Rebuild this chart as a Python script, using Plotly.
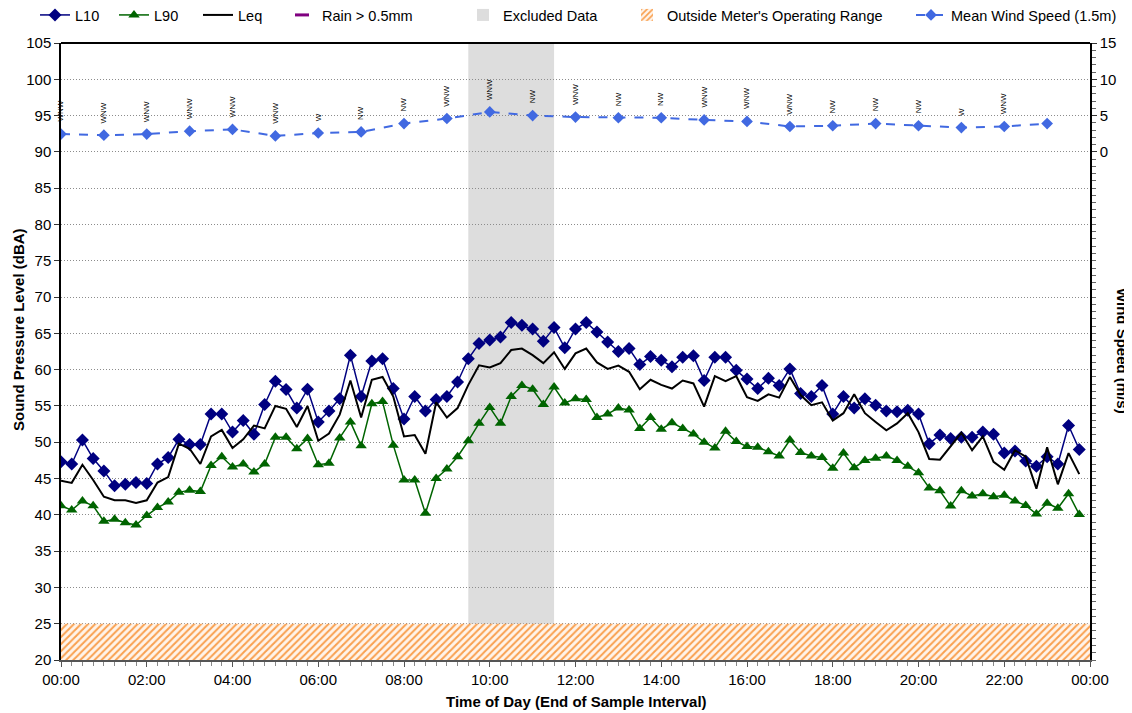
import pandas as pd
import plotly.graph_objects as go

DAY = "2000-01-01"
NEXT_DAY = "2000-01-02"

# 15-minute sample times (end of interval)
times = pd.date_range(f"{DAY} 00:00", periods=96, freq="15min")

l10 = [47.3, 47.0, 50.3, 47.75, 46.05, 44.0, 44.2, 44.45, 44.3, 47.0, 47.9, 50.4,
       49.7, 49.7, 53.9, 53.9, 51.4, 53.0, 51.1, 55.2, 58.4, 57.25, 54.7, 57.3,
       52.8, 54.3, 56.0, 62.0, 56.3, 61.2, 61.5, 57.4, 53.2, 56.3, 54.3, 55.9,
       56.3, 58.3, 61.5, 63.6, 64.1, 64.5, 66.5, 66.1, 65.6, 63.9, 65.8, 63.0,
       65.6, 66.5, 65.2, 63.8, 62.5, 62.9, 60.7, 61.8, 61.3, 60.4, 61.7, 61.9,
       58.5, 61.7, 61.7, 59.9, 58.7, 57.4, 58.8, 57.8, 60.1, 56.7, 56.3, 57.8,
       53.9, 56.3, 54.7, 56.0, 55.1, 54.3, 54.2, 54.4, 53.9, 49.8, 51.0, 50.5,
       50.7, 50.7, 51.4, 51.1, 48.5, 48.8, 47.4, 46.7, 48.0, 47.0, 52.3, 49.0]

leq = [44.7, 44.4, 46.9, 44.8, 42.5, 42.0, 42.0, 41.65, 42.0, 44.45, 45.2, 49.8,
       49.1, 47.0, 50.8, 51.7, 49.2, 50.4, 52.3, 51.9, 55.0, 54.6, 52.1, 55.0,
       50.2, 51.2, 53.8, 58.5, 53.4, 58.6, 59.0, 56.3, 50.8, 51.0, 48.4, 55.5,
       53.4, 54.7, 57.9, 60.6, 60.3, 60.9, 62.7, 62.9, 62.0, 60.9, 62.4, 60.1,
       62.25, 62.9, 61.0, 60.1, 60.55, 59.7, 57.3, 58.6, 57.9, 57.4, 58.5, 58.1,
       54.9, 59.1, 58.4, 59.1, 56.2, 55.7, 56.6, 56.15, 59.0, 56.5, 55.1, 55.5,
       53.0, 54.0, 56.6, 54.0, 52.8, 51.65, 52.6, 54.0, 51.4, 47.7, 47.6, 49.5,
       51.3, 48.9, 50.8, 47.3, 46.2, 48.9, 48.0, 43.6, 49.3, 44.2, 48.5, 45.6]

l90 = [41.25, 40.65, 41.9, 41.25, 39.1, 39.4, 38.9, 38.6, 39.9, 41.0, 41.75, 43.1,
       43.4, 43.2, 46.8, 48.0, 46.6, 47.0, 45.9, 47.0, 50.7, 50.7, 49.1, 50.5,
       46.9, 47.1, 50.6, 52.8, 49.5, 55.3, 55.6, 49.6, 44.8, 44.8, 40.2, 45.0,
       46.3, 48.0, 50.2, 52.6, 54.8, 52.6, 56.3, 57.8, 57.3, 55.2, 57.6, 55.4,
       56.0, 55.9, 53.4, 53.9, 54.7, 54.45, 51.9, 53.4, 51.8, 52.7, 51.9, 51.15,
       50.0, 49.2, 51.5, 50.1, 49.4, 49.3, 48.7, 48.1, 50.3, 48.6, 48.1, 47.9,
       46.4, 48.5, 46.5, 47.5, 47.8, 48.1, 47.5, 46.7, 45.8, 43.7, 43.3, 41.2,
       43.3, 42.6, 42.9, 42.5, 42.7, 41.9, 41.3, 40.1, 41.6, 40.9, 42.9, 40.05]

# hourly wind
wind_times = pd.date_range(f"{DAY} 00:00", periods=24, freq="60min")
wind_speed = [2.45, 2.3, 2.45, 2.85, 3.1, 2.2, 2.6, 2.75, 3.9, 4.6, 5.5, 5.0,
              4.8, 4.7, 4.7, 4.4, 4.2, 3.5, 3.6, 3.9, 3.6, 3.35, 3.5, 3.9]
wind_dir = ["WNW", "WNW", "WNW", "WNW", "WNW", "WNW", "W", "NW", "NW", "WNW",
            "WNW", "NW", "WNW", "NW", "NW", "WNW", "WNW", "WNW", "NW", "NW",
            "NW", "W", "WNW"]

excluded_start = f"{DAY} 09:30"
excluded_end = f"{DAY} 11:30"
range_low = 20
range_limit = 25
y_min, y_max = 20, 105
wind_offset = 90  # wind 0 m/s aligned with 90 dBA

x_tick_labels = ["00:00", "02:00", "04:00", "06:00", "08:00", "10:00", "12:00",
                 "14:00", "16:00", "18:00", "20:00", "22:00", "00:00"]
x_tick_vals = pd.date_range(f"{DAY} 00:00", periods=13, freq="2h")

FONT = "Arial, Liberation Sans, sans-serif"
LEG_FONT = dict(family=FONT, size=14.5, color="#000000")

# page geometry (the page body adds an 8px margin around the figure)
BODY = 8
PAGE_W, PAGE_H = 1132, 713
W, H = PAGE_W - BODY, PAGE_H - BODY
PL, PR, PT, PB = 61, 1090, 43, 660          # plot area on the page
ML, MT = PL - BODY, PT - BODY
MR, MB = W - (PR - BODY), H - (PB - BODY)
PW, PH = PR - PL, PB - PT


def px_x(p):
    return (p - PL) / PW


def px_y(p):
    return (PB - p) / PH


LEG_Y = px_y(15)
legend_text_x = [77, 156, 240, 324, 505, 669, 953]

fig = go.Figure()

hatch = dict(shape="/", fgcolor="#F9A04F", bgcolor="#FFF4EA", size=5,
             solidity=0.4, fillmode="replace")

# Outside operating range (hatched band)
fig.add_trace(go.Bar(
    x=[pd.Timestamp(f"{DAY} 12:00")], y=[range_limit - range_low], base=[range_low],
    width=[24 * 3600 * 1000],
    marker=dict(color="#FFF4EA", line=dict(width=0), pattern=hatch),
    name="Outside Meter's Operating Range", showlegend=False, hoverinfo="skip"))

fig.add_trace(go.Scatter(x=times, y=l10, mode="lines+markers", name="L10",
                         line=dict(color="#000080", width=1.5),
                         marker=dict(symbol="diamond", size=10, color="#000080"),
                         legend="legend"))
fig.add_trace(go.Scatter(x=times, y=l90, mode="lines+markers", name="L90",
                         line=dict(color="#006400", width=1.5),
                         marker=dict(symbol="triangle-up", size=10, color="#006400"),
                         legend="legend2"))
fig.add_trace(go.Scatter(x=times, y=leq, mode="lines", name="Leq",
                         line=dict(color="#000000", width=2), legend="legend3"))
fig.add_trace(go.Scatter(x=[None], y=[None], mode="markers", name="Rain > 0.5mm",
                         marker=dict(symbol="line-ew-open", size=10, color="#800080",
                                     line=dict(color="#800080", width=3)),
                         legend="legend4"))
fig.add_trace(go.Bar(x=[None], y=[None], name="Excluded Data",
                     marker=dict(color="#DDDDDD", line=dict(width=0)),
                     legend="legend5"))
fig.add_trace(go.Bar(x=[None], y=[None], name="Outside Meter's Operating Range",
                     marker=dict(color="#FFF4EA", line=dict(width=0), pattern=hatch),
                     legend="legend6"))
fig.add_trace(go.Scatter(x=wind_times, y=wind_speed, mode="lines+markers",
                         name="Mean Wind Speed (1.5m)", yaxis="y2",
                         line=dict(color="#4169E1", width=2, dash="dash"),
                         marker=dict(symbol="diamond", size=9, color="#4169E1"),
                         legend="legend7"))

# Excluded data band (below gridlines)
fig.add_shape(type="rect", xref="x", yref="y", x0=excluded_start, x1=excluded_end,
              y0=y_min, y1=y_max, fillcolor="#DDDDDD", line=dict(width=0),
              layer="below")

# top border
fig.add_shape(type="line", xref="paper", yref="paper", x0=0, x1=1, y0=1, y1=1,
              line=dict(color="#000000", width=2))

# wind direction labels
for t, s, d in zip(wind_times, wind_speed, wind_dir):
    fig.add_annotation(x=t, y=s, xref="x", yref="y2", text=d, showarrow=False,
                       textangle=-90, yanchor="bottom", xanchor="center",
                       yshift=10, font=dict(family=FONT, size=8, color="#000000"))

# axis titles
fig.add_annotation(x=px_x(1123), y=px_y(351), xref="paper", yref="paper",
                   text="<b>Wind Speed (m/s)</b>", showarrow=False, textangle=90,
                   xanchor="center", yanchor="middle",
                   font=dict(family=FONT, size=15, color="#000000"))
fig.add_annotation(x=px_x(18), y=px_y(330), xref="paper", yref="paper",
                   text="<b>Sound Pressure Level (dBA)</b>", showarrow=False,
                   textangle=-90, xanchor="center", yanchor="middle",
                   font=dict(family=FONT, size=15, color="#000000"))
fig.add_annotation(x=px_x(576), y=px_y(701), xref="paper", yref="paper",
                   text="<b>Time of Day (End of Sample Interval)</b>",
                   showarrow=False, xanchor="center", yanchor="middle",
                   font=dict(family=FONT, size=15, color="#000000"))

legends = {}
for i, tx in enumerate(legend_text_x):
    key = "legend" if i == 0 else f"legend{i + 1}"
    legends[key] = dict(orientation="h", x=px_x(tx - 42), y=LEG_Y,
                        xanchor="left", yanchor="middle", font=LEG_FONT,
                        bgcolor="rgba(0,0,0,0)", borderwidth=0)

fig.update_layout(
    width=W, height=H,
    margin=dict(l=ML, r=MR, t=MT, b=MB, autoexpand=False),
    paper_bgcolor="white", plot_bgcolor="white",
    font=dict(family=FONT, size=15, color="#000000"),
    barmode="overlay",
    showlegend=True,
    **legends,
    xaxis=dict(type="date", range=[f"{DAY} 00:00", f"{NEXT_DAY} 00:00"],
               tickmode="array", tickvals=x_tick_vals, ticktext=x_tick_labels,
               ticks="outside", ticklen=5, tickcolor="#555555",
               showline=True, linecolor="#555555", linewidth=1.5,
               showgrid=False, zeroline=False,
               minor=dict(dtick=15 * 60 * 1000, ticks="outside", ticklen=4,
                          tickcolor="#888888", showgrid=False),
               tickfont=dict(size=15)),
    yaxis=dict(range=[y_min, y_max], dtick=5, tick0=20,
               ticks="outside", ticklen=5, tickcolor="#333333",
               showline=True, linecolor="#000000", linewidth=1.5,
               showgrid=True, gridcolor="#8C8C8C", griddash="1px,2px", gridwidth=1,
               zeroline=False, tickfont=dict(size=15)),
    yaxis2=dict(overlaying="y", side="right",
                range=[y_min - wind_offset, y_max - wind_offset],
                tickmode="array", tickvals=[0, 5, 10, 15],
                ticks="outside", ticklen=5, tickcolor="#333333",
                showline=True, linecolor="#000000", linewidth=1.5,
                showgrid=False, zeroline=False,
                minor=dict(dtick=1, tick0=0, ticks="outside", ticklen=4,
                           tickcolor="#666666", showgrid=False),
                tickfont=dict(size=15)),
)

fig.write_html("out.html")
